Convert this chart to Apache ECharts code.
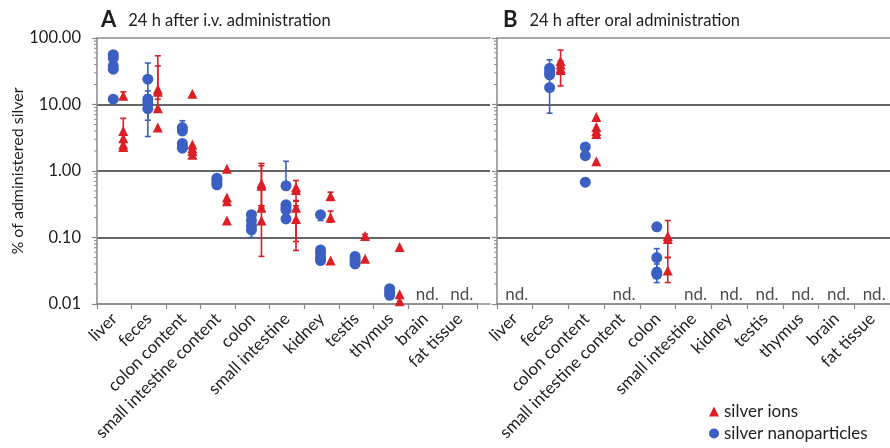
<!DOCTYPE html>
<html>
<head>
<meta charset="utf-8">
<script src="https://cdn.jsdelivr.net/npm/echarts@6/dist/echarts.min.js"></script>
<style>
  html, body { margin: 0; padding: 0; background: #fff; }
  #chart { width: 890px; height: 448px; }
</style>
</head>
<body>
<div id="chart"></div>
<script>
// Organs / tissues on the x axis (same for both panels)
const categories = ['liver', 'feces', 'colon content', 'small intestine content', 'colon',
  'small intestine', 'kidney', 'testis', 'thymus', 'brain', 'fat tissue'];

// Panel A: 24 h after i.v. administration — individual values, % of administered silver
const ivNanoPoints = [
  ['liver', 56], ['liver', 50], ['liver', 38], ['liver', 34], ['liver', 12],
  ['feces', 24], ['feces', 12], ['feces', 10.5], ['feces', 8.7],
  ['colon content', 4.5], ['colon content', 4.0], ['colon content', 2.6], ['colon content', 2.3], ['colon content', 2.2],
  ['small intestine content', 0.78], ['small intestine content', 0.72], ['small intestine content', 0.66], ['small intestine content', 0.62],
  ['colon', 0.22], ['colon', 0.18], ['colon', 0.15], ['colon', 0.13],
  ['small intestine', 0.6], ['small intestine', 0.31], ['small intestine', 0.28], ['small intestine', 0.26], ['small intestine', 0.19],
  ['kidney', 0.22], ['kidney', 0.065], ['kidney', 0.058], ['kidney', 0.05], ['kidney', 0.045],
  ['testis', 0.052], ['testis', 0.047], ['testis', 0.043], ['testis', 0.04],
  ['thymus', 0.017], ['thymus', 0.015], ['thymus', 0.0135]
];
const ivNanoErrors = [
  ['feces', 14, 42], ['feces', 5.8, 16], ['feces', 3.3, 13],
  ['colon content', 3.5, 5.7],
  ['colon', 0.1, 0.16],
  ['small intestine', 0.6, 1.4],
  ['kidney', 0.18, 0.24]
];
const ivIonPoints = [
  ['liver', 13.5], ['liver', 4.0], ['liver', 3.1], ['liver', 2.5], ['liver', 2.3],
  ['feces', 17], ['feces', 15.5], ['feces', 8.8], ['feces', 4.5],
  ['colon content', 14.5], ['colon content', 2.5], ['colon content', 2.2], ['colon content', 2.0], ['colon content', 1.75],
  ['small intestine content', 1.08], ['small intestine content', 0.4], ['small intestine content', 0.35], ['small intestine content', 0.18],
  ['colon', 0.65], ['colon', 0.6], ['colon', 0.28], ['colon', 0.18],
  ['small intestine', 0.57], ['small intestine', 0.52], ['small intestine', 0.28], ['small intestine', 0.19],
  ['kidney', 0.42], ['kidney', 0.2], ['kidney', 0.045],
  ['testis', 0.105], ['testis', 0.048],
  ['thymus', 0.072], ['thymus', 0.014], ['thymus', 0.011]
];
const ivIonErrors = [
  ['liver', 12.3, 15.5], ['liver', 2.9, 6.2],
  ['feces', 8.5, 54], ['feces', 12, 38],
  ['colon', 0.3, 1.3], ['colon', 0.28, 1.2], ['colon', 0.052, 0.3],
  ['small intestine', 0.35, 0.72], ['small intestine', 0.087, 0.36], ['small intestine', 0.064, 0.3],
  ['kidney', 0.36, 0.48], ['kidney', 0.17, 0.25],
  ['testis', 0.1, 0.112]
];
const ivNotDetected = ['brain', 'fat tissue'];

// Panel B: 24 h after oral administration
const oralNanoPoints = [
  ['feces', 35], ['feces', 31], ['feces', 28], ['feces', 18],
  ['colon content', 2.3], ['colon content', 1.7], ['colon content', 0.68],
  ['colon', 0.145], ['colon', 0.05], ['colon', 0.03], ['colon', 0.028]
];
const oralNanoErrors = [
  ['feces', 25, 47], ['feces', 7.4, 28],
  ['colon', 0.13, 0.15], ['colon', 0.035, 0.068], ['colon', 0.021, 0.04]
];
const oralIonPoints = [
  ['feces', 45], ['feces', 40], ['feces', 35], ['feces', 33],
  ['colon content', 6.5], ['colon content', 4.6], ['colon content', 4.0], ['colon content', 3.6], ['colon content', 1.4],
  ['colon', 0.105], ['colon', 0.095], ['colon', 0.032]
];
const oralIonErrors = [
  ['feces', 30, 66], ['feces', 19, 45],
  ['colon', 0.05, 0.18], ['colon', 0.021, 0.05]
];
const oralNotDetected = ['liver', 'small intestine content', 'small intestine', 'kidney',
  'testis', 'thymus', 'brain', 'fat tissue'];

// Log-axis range and the 2..9 minor ticks of each decade
const yMin = 0.01, yMax = 100;
const minorTickValues = [];
for (let d = yMin; d < yMax; d *= 10) {
  for (let m = 2; m <= 9; m++) minorTickValues.push(+(d * m).toPrecision(3));
}

const BLUE = '#3b5fc2';
const RED = '#dc1f26';
const TEXT = '#1e1e1e';
const AXIS = '#8a8a8a';
const FONT = 'Lato';
const LABEL_SIZE = 17;

const chart = echarts.init(document.getElementById('chart'), null, { renderer: 'canvas' });

function errorBars(offset, color) {
  return function (params, api) {
    const xi = api.value(0);
    const lo = api.coord([xi, api.value(1)]);
    const hi = api.coord([xi, api.value(2)]);
    const x = lo[0] + offset;
    const cap = 3;
    const style = { stroke: color, lineWidth: 1.6 };
    return {
      type: 'group',
      children: [
        { type: 'line', shape: { x1: x, y1: lo[1], x2: x, y2: hi[1] }, style },
        { type: 'line', shape: { x1: x - cap, y1: lo[1], x2: x + cap, y2: lo[1] }, style },
        { type: 'line', shape: { x1: x - cap, y1: hi[1], x2: x + cap, y2: hi[1] }, style }
      ]
    };
  };
}

function minorTicks(params, api) {
  const p = api.coord([0, api.value(1)]);
  return {
    type: 'line',
    shape: { x1: p[0] - 3, y1: p[1], x2: p[0], y2: p[1] },
    style: { stroke: AXIS, lineWidth: 1 }
  };
}

const gridTop = 38, gridHeight = 266;

// Category axis for the data of one panel
function catAxis(gridIndex) {
  return {
    type: 'category', gridIndex, data: categories,
    axisLine: { lineStyle: { color: AXIS, width: 1.5 } },
    axisTick: { show: true, length: 5, lineStyle: { color: AXIS, width: 1.2 } },
    axisLabel: { rotate: 45, interval: 0, margin: 12, fontSize: LABEL_SIZE, color: TEXT, fontFamily: FONT },
    splitLine: { show: false }
  };
}
// Frame axis (bottom or top border) of one panel
function frameAxis(gridIndex, position) {
  return {
    type: 'value', gridIndex, min: 0, max: 1, position,
    axisLine: { show: true, onZero: false, lineStyle: { color: AXIS, width: 1.5 } },
    axisTick: { show: false }, axisLabel: { show: false }, splitLine: { show: false }
  };
}
function logAxis(gridIndex, visible, withLabels) {
  return {
    type: 'log', logBase: 10, gridIndex, min: yMin, max: yMax, show: visible,
    axisLine: { show: true, lineStyle: { color: AXIS, width: 1.5 } },
    axisTick: { show: true, length: 5, lineStyle: { color: AXIS, width: 1.2 } },
    axisLabel: {
      show: withLabels, margin: 16, fontSize: 16.5, color: TEXT, fontFamily: FONT,
      formatter: v => Number(v).toFixed(2)
    },
    splitLine: {
      show: visible, showMinLine: false, showMaxLine: false,
      lineStyle: { color: '#333', width: 1.5 }
    }
  };
}

function ndSeries(xAxisIndex, yAxisIndex, list) {
  return {
    type: 'scatter', xAxisIndex, yAxisIndex, silent: true,
    symbolSize: 1, itemStyle: { color: 'rgba(0,0,0,0)' },
    data: list.map(c => [c, yMin]),
    label: {
      show: true, position: 'inside', offset: [2, -9], formatter: 'nd.',
      fontSize: LABEL_SIZE, color: TEXT, fontFamily: FONT
    },
    z: 4
  };
}

function panelTitle(left, letter, text) {
  return {
    left, top: 4,
    text: '{a|' + letter + '}{b|' + text + '}',
    textStyle: {
      rich: {
        a: { fontSize: 22, fontWeight: 'bold', color: TEXT, fontFamily: FONT },
        b: { fontSize: 16.5, fontWeight: 'normal', color: TEXT, fontFamily: FONT, padding: [2, 0, 0, 12] }
      }
    }
  };
}

const option = {
  backgroundColor: '#fff',
  animation: false,
  textStyle: { fontFamily: FONT },
  title: [
    panelTitle(96, 'A', '24 h after i.v. administration'),
    panelTitle(498, 'B', '24 h after oral administration')
  ],
  legend: {
    orient: 'vertical', left: 704, top: 398,
    itemWidth: 10, itemHeight: 10, itemGap: 5,
    textStyle: { fontSize: LABEL_SIZE, color: TEXT, fontFamily: FONT },
    data: [
      { name: 'silver ions', icon: 'triangle' },
      { name: 'silver nanoparticles', icon: 'circle' }
    ]
  },
  grid: [
    { left: 97, top: gridTop, width: 380, height: gridHeight },   // A: data
    { left: 97, top: gridTop, width: 393, height: gridHeight },   // A: frame and gridlines
    { left: 497, top: gridTop, width: 396, height: gridHeight },  // B: data
    { left: 497, top: gridTop, width: 400, height: gridHeight }   // B: frame and gridlines
  ],
  xAxis: [
    catAxis(0),
    frameAxis(1, 'bottom'),
    frameAxis(1, 'top'),
    catAxis(2),
    frameAxis(3, 'bottom'),
    frameAxis(3, 'top')
  ],
  yAxis: [
    logAxis(0, false, false),
    Object.assign(logAxis(1, true, true), {
      name: '% of administered silver', nameLocation: 'middle', nameGap: 64,
      nameTextStyle: { fontSize: 16, color: TEXT, fontFamily: FONT }
    }),
    logAxis(2, false, false),
    logAxis(3, true, false)
  ],
  series: [
    // axis minor ticks
    { type: 'custom', xAxisIndex: 1, yAxisIndex: 1, silent: true, renderItem: minorTicks,
      data: minorTickValues.map(v => [0, v]), encode: { x: 0, y: 1 } },
    { type: 'custom', xAxisIndex: 4, yAxisIndex: 3, silent: true, renderItem: minorTicks,
      data: minorTickValues.map(v => [0, v]), encode: { x: 0, y: 1 } },

    // Panel A error bars
    { type: 'custom', xAxisIndex: 0, yAxisIndex: 0, silent: true, z: 2,
      renderItem: errorBars(-1, BLUE), data: ivNanoErrors, encode: { x: 0, y: [1, 2] } },
    { type: 'custom', xAxisIndex: 0, yAxisIndex: 0, silent: true, z: 2,
      renderItem: errorBars(9, RED), data: ivIonErrors, encode: { x: 0, y: [1, 2] } },
    // Panel A points
    { name: 'silver nanoparticles', type: 'scatter', xAxisIndex: 0, yAxisIndex: 0, z: 3,
      symbol: 'circle', symbolSize: 11, symbolOffset: [-1, 0],
      itemStyle: { color: BLUE, opacity: 1 }, data: ivNanoPoints },
    { name: 'silver ions', type: 'scatter', xAxisIndex: 0, yAxisIndex: 0, z: 3,
      symbol: 'triangle', symbolSize: 10, symbolOffset: [9, 0],
      itemStyle: { color: RED, opacity: 1 }, data: ivIonPoints },
    ndSeries(0, 0, ivNotDetected),

    // Panel B error bars
    { type: 'custom', xAxisIndex: 3, yAxisIndex: 2, silent: true, z: 2,
      renderItem: errorBars(-1, BLUE), data: oralNanoErrors, encode: { x: 0, y: [1, 2] } },
    { type: 'custom', xAxisIndex: 3, yAxisIndex: 2, silent: true, z: 2,
      renderItem: errorBars(10, RED), data: oralIonErrors, encode: { x: 0, y: [1, 2] } },
    // Panel B points
    { name: 'silver nanoparticles', type: 'scatter', xAxisIndex: 3, yAxisIndex: 2, z: 3,
      symbol: 'circle', symbolSize: 11, symbolOffset: [-1, 0],
      itemStyle: { color: BLUE, opacity: 1 }, data: oralNanoPoints },
    { name: 'silver ions', type: 'scatter', xAxisIndex: 3, yAxisIndex: 2, z: 3,
      symbol: 'triangle', symbolSize: 10, symbolOffset: [10, 0],
      itemStyle: { color: RED, opacity: 1 }, data: oralIonPoints },
    ndSeries(3, 2, oralNotDetected)
  ]
};

chart.setOption(option);
</script>
</body>
</html>
